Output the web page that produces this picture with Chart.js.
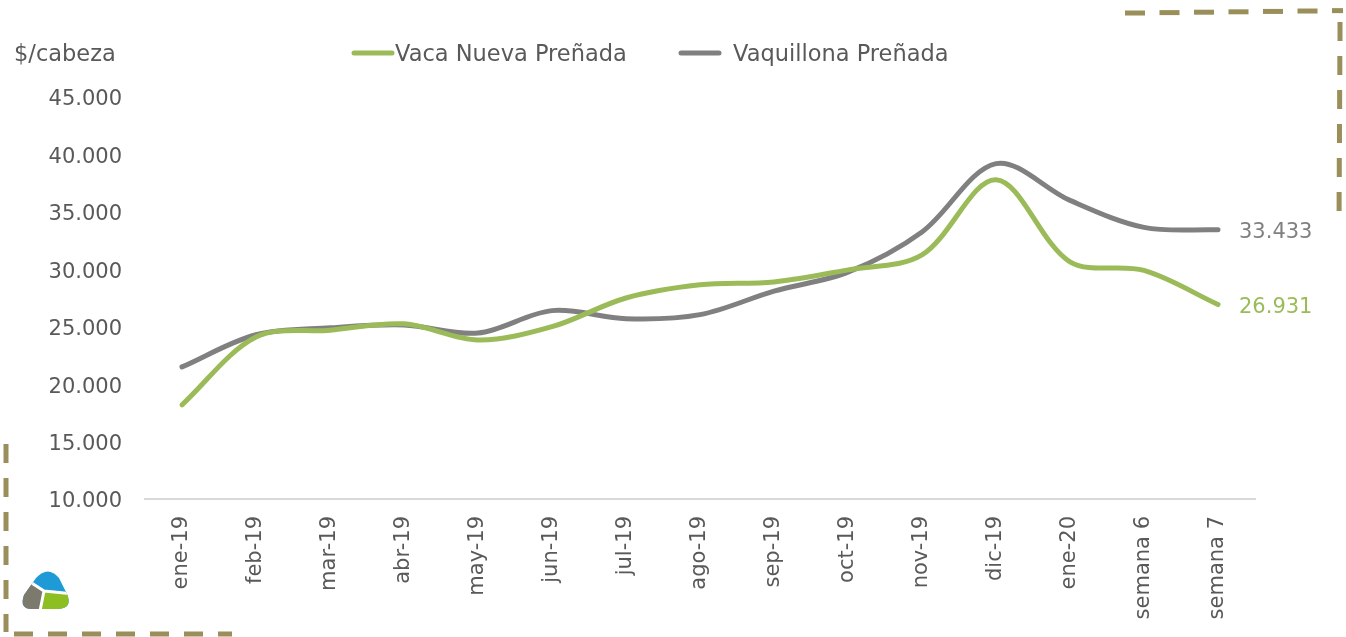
<!DOCTYPE html>
<html>
<head>
<meta charset="utf-8">
<script src="https://cdn.jsdelivr.net/npm/chart.js@4.4.1/dist/chart.umd.min.js"></script>
<style>
html,body{margin:0;padding:0;background:#fff;}
#wrap{position:relative;width:1346px;height:637px;}
</style>
</head>
<body>
<div id="wrap"><canvas id="c" width="1346" height="637"></canvas></div>
<script>
const categories = ["ene-19","feb-19","mar-19","abr-19","may-19","jun-19","jul-19","ago-19","sep-19","oct-19","nov-19","dic-19","ene-20","semana 6","semana 7"];
const vacaNueva = [18200,24100,24700,25250,23850,25000,27500,28650,28900,29950,31250,37800,30650,29900,26931];
const vaquillona = [21500,24300,24900,25150,24450,26400,25700,26050,28100,29750,33250,39200,36000,33650,33433];
const yTicks = [10000,15000,20000,25000,30000,35000,40000,45000];
const seriesNames = ["Vaca Nueva Preñada","Vaquillona Preñada"];
const seriesColors = ["#9bbb59","#808080"];
const unitLabel = "$/cabeza";

const FONT = "'DejaVu Sans', sans-serif";
const fmt = v => String(Math.round(v)).replace(/\B(?=(\d{3})+(?!\d))/g, ".");

function dashH(ctx, x0, x1, y0, y1, dash, gap, w) {
  const len = x1 - x0;
  for (let s = 0; s < len; s += dash + gap) {
    const e = Math.min(s + dash, len);
    const y = y0 + (y1 - y0) * (s / len);
    ctx.fillRect(x0 + s, y - w / 2, e - s, w);
  }
}
function dashV(ctx, x0, x1, y0, y1, dash, gap, w) {
  const len = y1 - y0;
  for (let s = 0; s < len; s += dash + gap) {
    const e = Math.min(s + dash, len);
    const x = x0 + (x1 - x0) * (s / len);
    ctx.fillRect(x - w / 2, y0 + s, w, e - s);
  }
}

const decoPlugin = {
  id: 'deco',
  afterDraw(chart) {
    const ctx = chart.ctx;
    ctx.save();
    // unit label
    ctx.fillStyle = "#595959";
    ctx.font = "22.5px " + FONT;
    ctx.textBaseline = "middle";
    ctx.textAlign = "left";
    ctx.fillText(unitLabel, 14, 55);
    // legend
    const legendX = [354, 681];
    const textX = [395, 733];
    chart.data.datasets.forEach((ds, i) => {
      const x = legendX[i];
      ctx.strokeStyle = ds.borderColor;
      ctx.lineWidth = 5;
      ctx.lineCap = "round";
      ctx.beginPath();
      ctx.moveTo(x, 53); ctx.lineTo(x + 38, 53);
      ctx.stroke();
      ctx.fillStyle = "#595959";
      ctx.fillText(ds.label, textX[i], 55);
    });
    // end labels
    chart.data.datasets.forEach((ds, i) => {
      const meta = chart.getDatasetMeta(i);
      const last = meta.data[meta.data.length - 1];
      ctx.fillStyle = ds.borderColor;
      ctx.font = "21px " + FONT;
      ctx.fillText(fmt(ds.data[ds.data.length - 1]), last.x + 21, last.y + 3);
    });
    // dashed frame decorations
    ctx.fillStyle = "#9a8f5a";
    dashH(ctx, 1125, 1343, 13, 10.5, 20, 14.5, 5);
    dashV(ctx, 1340, 1339, 22, 212, 19, 15, 5);
    dashV(ctx, 6, 6, 444, 632, 19, 15, 5);
    dashH(ctx, 14, 232, 634, 634, 19, 15, 5);
    // logo
    ctx.save();
    ctx.beginPath();
    ctx.moveTo(36, 578);
    ctx.quadraticCurveTo(48, 565, 59, 578);
    ctx.lineTo(67, 594);
    ctx.quadraticCurveTo(73, 608, 58, 609);
    ctx.lineTo(32, 609);
    ctx.quadraticCurveTo(19, 609, 24, 595);
    ctx.closePath();
    ctx.clip();
    ctx.fillStyle = "#1e9bd7";
    ctx.fillRect(10, 560, 70, 55);
    const c = [44, 591], ul = [27, 580], rt = [74, 594], bt = [39, 616];
    ctx.fillStyle = "#7b7a6c";
    ctx.beginPath();
    ctx.moveTo(c[0], c[1]); ctx.lineTo(ul[0], ul[1]); ctx.lineTo(10, 582); ctx.lineTo(10, 616); ctx.lineTo(bt[0], bt[1]);
    ctx.closePath(); ctx.fill();
    ctx.fillStyle = "#8dbf22";
    ctx.beginPath();
    ctx.moveTo(c[0], c[1]); ctx.lineTo(bt[0], bt[1]); ctx.lineTo(80, 616); ctx.lineTo(rt[0], rt[1]);
    ctx.closePath(); ctx.fill();
    ctx.strokeStyle = "#ffffff";
    ctx.lineWidth = 3;
    ctx.lineJoin = "round";
    ctx.beginPath();
    ctx.moveTo(ul[0], ul[1]); ctx.lineTo(c[0], c[1]); ctx.lineTo(rt[0], rt[1]);
    ctx.moveTo(c[0], c[1]); ctx.lineTo(bt[0], bt[1]);
    ctx.stroke();
    ctx.restore();
    ctx.restore();
  }
};

new Chart(document.getElementById('c'), {
  type: 'line',
  data: {
    labels: categories,
    datasets: [
      { label: seriesNames[0], data: vacaNueva, borderColor: seriesColors[0], backgroundColor: seriesColors[0] },
      { label: seriesNames[1], data: vaquillona, borderColor: seriesColors[1], backgroundColor: seriesColors[1] }
    ]
  },
  options: {
    responsive: false,
    animation: false,
    layout: { padding: { top: 97, right: 91, left: 0, bottom: 0 } },
    elements: {
      line: { borderWidth: 5, tension: 0.33, borderCapStyle: 'round', borderJoinStyle: 'round', fill: false },
      point: { radius: 0, hoverRadius: 0 }
    },
    plugins: { legend: { display: false }, tooltip: { enabled: false } },
    scales: {
      x: {
        offset: true,
        grid: { display: false, drawTicks: false },
        border: { display: true, color: '#d9d9d9', width: 2 },
        ticks: { color: '#595959', font: { family: FONT, size: 21 }, minRotation: 90, maxRotation: 90, padding: 17, autoSkip: false },
        afterFit(s) { s.height = 138; }
      },
      y: {
        min: 10000, max: 45000,
        grid: { display: false, drawTicks: false },
        border: { display: false },
        afterBuildTicks(s) { s.ticks = yTicks.map(v => ({ value: v })); },
        ticks: { color: '#595959', font: { family: FONT, size: 21 }, padding: 23, labelOffset: 3, callback: v => fmt(v) },
        afterFit(s) { s.width = 145; }
      }
    }
  },
  plugins: [decoPlugin]
});
</script>
</body>
</html>
